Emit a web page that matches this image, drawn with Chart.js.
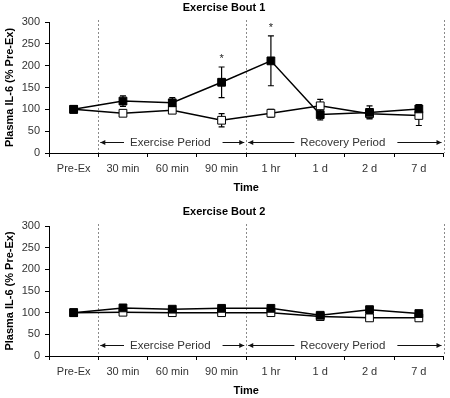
<!DOCTYPE html>
<html><head><meta charset="utf-8">
<script src="https://cdn.jsdelivr.net/npm/chart.js@4"></script>
<style>
html,body{margin:0;padding:0;background:#fff;}
canvas{display:block;}
</style></head><body>
<canvas id="c1" width="450" height="200"></canvas>
<canvas id="c2" width="450" height="198"></canvas>
<script>
const categories = ['Pre-Ex','30 min','60 min','90 min','1 hr','1 d','2 d','7 d'];
const yTicks = [0,50,100,150,200,250,300];
const bout1Filled    = [100,119,115,162,211,88,93,101];
const bout1FilledErr = [0,12,12,35,57,12,15,10];
const bout1Open      = [100,91,98,75,91,108,90,86];
const bout1OpenErr   = [0,6,5,15,9,15,10,23];
const bout1Sig       = [false,false,false,true,true,false,false,false];
const bout2Filled    = [100,111,108,110,110,94,107,98];
const bout2FilledErr = [0,0,0,0,0,0,0,0];
const bout2Open      = [100,101,100,100,100,91,88,88];
const bout2OpenErr   = [0,0,0,0,0,0,0,0];
const bout2Sig       = [false,false,false,false,false,false,false,false];
const periods = [
  {label:'Exercise Period', from:0.5, to:3.5},
  {label:'Recovery Period', from:3.5, to:7.5}
];
const periodLevel = 25;
const dividers = [0.5, 3.5, 7.5];

const FONT = "'Liberation Sans', Arial, sans-serif";

const annot = {
  id:'annot',
  beforeDatasetsDraw(chart, args, o){
    const ctx = chart.ctx, xs = chart.scales.x, ys = chart.scales.y, ca = chart.chartArea;
    ctx.save();
    // dotted dividers
    ctx.strokeStyle = '#8a8a8a'; ctx.lineWidth = 1; ctx.setLineDash([2,2]);
    dividers.forEach(d => {
      const px = Math.round(xs.getPixelForValue(d)) + 0.5;
      ctx.beginPath(); ctx.moveTo(px, ca.top - 2); ctx.lineTo(px, ca.bottom); ctx.stroke();
    });
    ctx.setLineDash([]);
    // period labels with arrows
    ctx.font = "11.5px " + FONT; ctx.fillStyle = '#333'; ctx.strokeStyle = '#111';
    ctx.textAlign = 'center'; ctx.textBaseline = 'middle';
    const py = Math.round(ys.getPixelForValue(periodLevel)) + 0.5;
    periods.forEach(p => {
      const a = xs.getPixelForValue(p.from) + 2, b = xs.getPixelForValue(p.to) - 2;
      const cx = (a + b) / 2 - 2;
      const w = ctx.measureText(p.label).width;
      ctx.fillText(p.label, cx, py);
      const l1 = cx - w/2 - 6, r1 = cx + w/2 + 12;
      ctx.beginPath(); ctx.moveTo(a, py); ctx.lineTo(l1, py); ctx.moveTo(r1, py); ctx.lineTo(b, py); ctx.stroke();
      ctx.beginPath(); ctx.moveTo(a, py); ctx.lineTo(a+5, py-2.5); ctx.lineTo(a+5, py+2.5); ctx.closePath(); ctx.fillStyle='#111'; ctx.fill();
      ctx.beginPath(); ctx.moveTo(b, py); ctx.lineTo(b-5, py-2.5); ctx.lineTo(b-5, py+2.5); ctx.closePath(); ctx.fill();
      ctx.fillStyle = '#333';
    });
    // error bars
    ctx.strokeStyle = '#000'; ctx.lineWidth = 1.2;
    o.series.forEach(s => {
      s.values.forEach((v, i) => {
        const e = s.err[i]; if (!e) return;
        const px = xs.getPixelForValue(i);
        const t = ys.getPixelForValue(v + e), bt = ys.getPixelForValue(v - e);
        ctx.beginPath();
        ctx.moveTo(px, t); ctx.lineTo(px, bt);
        ctx.moveTo(px-3, t); ctx.lineTo(px+3, t);
        ctx.moveTo(px-3, bt); ctx.lineTo(px+3, bt);
        ctx.stroke();
      });
    });
    // significance asterisks
    ctx.fillStyle = '#222'; ctx.font = "11px " + FONT; ctx.textBaseline = 'top';
    o.sig.forEach((sg, i) => {
      if (!sg) return;
      const s = o.series[0];
      const t = ys.getPixelForValue(s.values[i] + s.err[i]);
      ctx.fillText('*', xs.getPixelForValue(i), t - 14);
    });
    ctx.restore();
  }
};

function makeChart(id, title, filled, filledErr, open, openErr, sig, lay){
  new Chart(document.getElementById(id), {
    type:'line',
    data:{
      labels: categories,
      datasets:[
        {data: filled, borderColor:'#000', borderWidth:1.5, pointStyle:'rect', pointRadius:5.5,
         pointBackgroundColor:'#000', pointBorderColor:'#000', pointBorderWidth:1, tension:0},
        {data: open, borderColor:'#000', borderWidth:1.5, pointStyle:'rect', pointRadius:5.5,
         pointBackgroundColor:'#fff', pointBorderColor:'#000', pointBorderWidth:1, tension:0}
      ]
    },
    options:{
      responsive:false, animation:false, devicePixelRatio:1,
      layout:{padding:{left:2, right:4, top:0, bottom:lay.pBot}},
      plugins:{
        legend:{display:false}, tooltip:{enabled:false},
        title:{display:true, text:title, color:'#000', font:{family:FONT, size:11, weight:'bold'},
               padding:{top:lay.tTop, bottom:lay.tBot}},
        annot:{series:[{values:filled, err:filledErr},{values:open, err:openErr}], sig:sig}
      },
      scales:{
        x:{
          type:'category', offset:true,
          grid:{offset:true, drawOnChartArea:false, drawTicks:true, tickLength:4, color:'#000', lineWidth:1},
          border:{display:true, color:'#000', width:1},
          ticks:{color:'#333', font:{family:FONT, size:11}, padding:5, maxRotation:0, autoSkip:false},
          title:{display:true, text:'Time', color:'#000', font:{family:FONT, size:11, weight:'bold'}, padding:{top:0,bottom:lay.xtPad}},
          afterFit(s){ s.height = lay.xH; }
        },
        y:{
          min:0, max:300,
          afterBuildTicks(s){ s.ticks = yTicks.map(v => ({value:v})); },
          grid:{drawOnChartArea:false, drawTicks:true, tickLength:4, color:'#000', lineWidth:1},
          border:{display:true, color:'#000', width:1},
          ticks:{color:'#333', font:{family:FONT, size:11}, padding:5},
          title:{display:true, text:'Plasma IL-6 (% Pre-Ex)', color:'#000', font:{family:FONT, size:11, weight:'bold'}, padding:{top:1.4,bottom:0}},
          afterFit(s){ s.width = 47; }
        }
      }
    },
    plugins:[annot]
  });
}

makeChart('c1', 'Exercise Bout 1', bout1Filled, bout1FilledErr, bout1Open, bout1OpenErr, bout1Sig,
  {tTop:1.4, tBot:7.4, xH:45, xtPad:3.4, pBot:2});
makeChart('c2', 'Exercise Bout 2', bout2Filled, bout2FilledErr, bout2Open, bout2OpenErr, bout2Sig,
  {tTop:5.4, tBot:7.4, xH:42, xtPad:0, pBot:0});
</script>
</body></html>
